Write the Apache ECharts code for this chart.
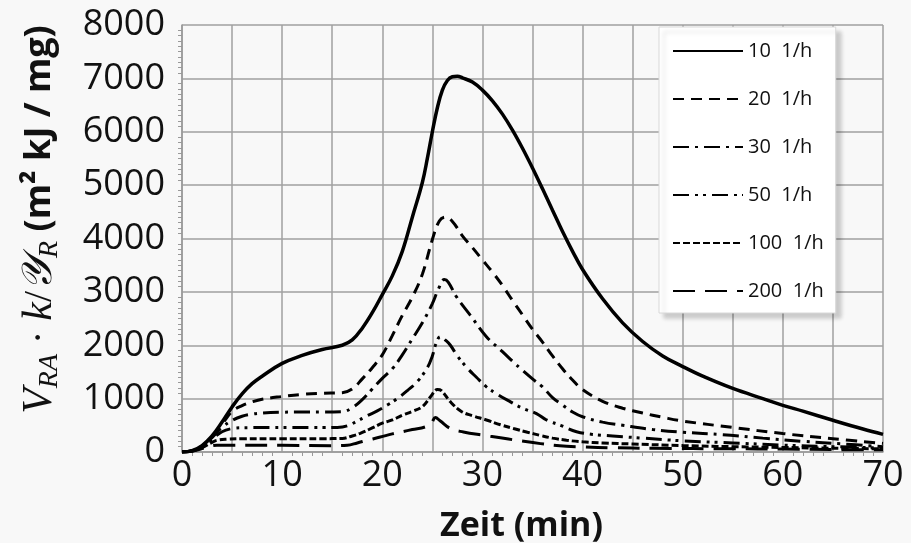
<!DOCTYPE html>
<html>
<head>
<meta charset="utf-8">
<script src="https://cdn.jsdelivr.net/npm/echarts@6.0.0/dist/echarts.min.js"></script>
<style>
  html, body { margin: 0; padding: 0; background: #f8f8f8; }
  #chart { width: 911px; height: 543px; }
</style>
</head>
<body>
<div id="chart"></div>
<script>
// Zeit (min) / Wert je Luftwechselrate
const t10 = [0, 1, 2, 3, 4, 5, 6, 7, 8, 10, 12, 14, 16, 17, 18, 19, 20, 21, 22, 23, 24, 24.5, 25, 25.5, 26, 26.5, 27, 27.5, 28, 29, 30, 31, 32, 33, 34, 35, 36, 37, 38, 39, 40, 42, 44, 46, 48, 50, 52, 55, 58, 60, 62, 65, 68, 70];
const v10 = [0, 25, 120, 300, 560, 845, 1090, 1280, 1420, 1660, 1810, 1920, 2000, 2100, 2320, 2610, 2950, 3300, 3760, 4400, 5050, 5500, 6000, 6450, 6780, 6960, 7030, 7040, 7010, 6930, 6780, 6580, 6330, 6030, 5690, 5320, 4930, 4530, 4130, 3760, 3420, 2870, 2420, 2070, 1800, 1600, 1420, 1190, 1000, 875, 765, 594, 430, 330];

const t20 = [0, 1, 2, 3, 4, 5, 6, 7, 8, 10, 12, 14, 16, 17, 18, 19, 20, 21, 22, 23, 24, 25, 25.7, 26.3, 27, 28, 29, 30, 31, 32, 33, 34, 35, 36, 37, 38, 39, 40, 42, 44, 46, 48, 50, 55, 60, 65, 70];
const v20 = [0, 25, 115, 290, 520, 760, 870, 940, 990, 1040, 1080, 1100, 1110, 1180, 1370, 1580, 1820, 2180, 2560, 2900, 3330, 3980, 4330, 4400, 4320, 4050, 3830, 3600, 3370, 3120, 2840, 2570, 2300, 2060, 1800, 1560, 1350, 1170, 950, 820, 730, 650, 580, 460, 345, 250, 160];

const t30 = [0, 1, 2, 3, 4, 5, 6, 7, 8, 10, 12, 14, 16, 17, 18, 19, 20, 21, 22, 23, 24, 25, 25.6, 26.2, 26.6, 27.4, 28.8, 30.4, 32, 33, 34, 35, 36, 37, 38, 39, 40, 42, 44, 47, 50, 54, 58, 62, 66, 70];
const v30 = [0, 22, 105, 270, 460, 590, 670, 710, 730, 745, 750, 750, 755, 830, 980, 1180, 1380, 1560, 1820, 2120, 2420, 2780, 3050, 3230, 3180, 2910, 2560, 2160, 1880, 1700, 1530, 1370, 1220, 1020, 880, 750, 660, 560, 500, 420, 370, 325, 260, 200, 150, 100];

const t50 = [0, 1, 2, 3, 4, 5, 6, 8, 10, 12, 14, 15.5, 16.5, 17.5, 18.5, 19.5, 20.5, 21.5, 22.5, 23.5, 24.5, 25, 25.4, 25.8, 26.4, 26.8, 27.5, 28.4, 29.4, 30.4, 31.5, 32.8, 34, 35.4, 36.4, 37.8, 39.4, 41, 43, 46, 50, 55, 60, 65, 70];
const v50 = [0, 20, 95, 240, 380, 440, 455, 457, 457, 457, 457, 460, 490, 580, 680, 770, 880, 1000, 1150, 1320, 1580, 1800, 2050, 2160, 2080, 2000, 1800, 1590, 1400, 1220, 1080, 940, 820, 720, 600, 500, 380, 330, 300, 260, 210, 170, 130, 100, 75];

const t100 = [0, 1, 2, 3, 3.5, 4.5, 6, 10, 14, 16, 17, 17.8, 19, 20, 21, 22, 23, 24, 24.8, 25.5, 25.9, 26.8, 27.9, 29, 30.4, 31.8, 33.1, 34.5, 35.8, 37, 38.4, 40, 42, 45, 50, 55, 60, 65, 70];
const v100 = [0, 18, 80, 180, 220, 240, 248, 250, 250, 255, 300, 350, 450, 540, 600, 690, 760, 850, 1030, 1170, 1150, 940, 760, 680, 600, 510, 440, 370, 310, 260, 220, 190, 170, 150, 120, 100, 85, 70, 60];

const t200 = [0, 1, 2, 2.8, 3.5, 5, 10, 15, 16.5, 17.5, 18.5, 19.8, 21, 22, 23, 24.3, 24.9, 25.3, 25.8, 26.8, 28.1, 30.1, 31.8, 33.4, 35.8, 38.4, 40, 43, 47, 55, 60, 65, 70];
const v200 = [0, 15, 65, 110, 125, 125, 125, 118, 125, 170, 220, 280, 340, 380, 420, 470, 540, 645, 580, 440, 375, 313, 265, 220, 157, 107, 95, 80, 70, 60, 55, 45, 40];

const seriesNames = ['10  1/h', '20  1/h', '30  1/h', '50  1/h', '100  1/h', '200  1/h'];
const xTicks = [0, 10, 20, 30, 40, 50, 60, 70];

const zip = (t, v) => t.map((x, i) => [x, v[i]]);
const allData = [zip(t10, v10), zip(t20, v20), zip(t30, v30), zip(t50, v50), zip(t100, v100), zip(t200, v200)];
const dashes = ['solid', [11, 7], [16, 6, 3, 6], [16, 6, 3, 5, 3, 6], [7, 3], [22, 10]];
const widths = [3.5, 3, 3, 3, 3, 3];

let chart = echarts.init(document.getElementById('chart'));

const option = {
  backgroundColor: '#f8f8f8',
  animation: false,
  grid: { left: 182, right: 28, top: 25, bottom: 91, outerBoundsMode: 'none' },
  legend: {
    orient: 'vertical',
    left: 659,
    top: 27,
    itemWidth: 70,
    itemHeight: 20,
    itemGap: 28,
    padding: [14, 12, 12, 13],
    backgroundColor: '#ffffff',
    borderColor: '#d8d8d8',
    borderWidth: 1,
    shadowColor: 'rgba(0,0,0,0.18)',
    shadowBlur: 4,
    shadowOffsetX: 5,
    shadowOffsetY: 5,
    itemStyle: { opacity: 0 },
    textStyle: { fontFamily: 'Open Sans', fontSize: 20, color: '#111' },
    data: seriesNames
  },
  xAxis: {
    type: 'value',
    min: 0,
    max: 70,
    interval: 5,
    name: 'Zeit (min)',
    nameLocation: 'middle',
    nameGap: 57,
    nameTextStyle: { fontFamily: 'Open Sans', fontWeight: 'bold', fontSize: 34, color: '#111', padding: [0, 22, 0, 0] },
    axisLine: { show: true, lineStyle: { color: '#999', width: 1.5 } },
    axisTick: { show: false },
    minorTick: { show: true, splitNumber: 5, length: 4, lineStyle: { color: '#999' } },
    splitLine: { show: true, lineStyle: { color: '#a0a0a0', width: 1.5 } },
    axisLabel: {
      fontFamily: 'Open Sans', fontSize: 36, color: '#111', margin: 6,
      formatter: v => xTicks.includes(v) ? String(v) : ''
    }
  },
  yAxis: {
    type: 'value',
    min: 0,
    max: 8000,
    interval: 1000,
    name: '{i|V}{sub|RA}{m| · }{i|k}{m|/}{i|𝒴}{sub|R}{b| (m² kJ / mg)}',
    nameLocation: 'middle',
    nameRotate: 90,
    nameGap: 118,
    nameTextStyle: {
      padding: [0, 0, 0, 38],
      rich: {
        i: { fontFamily: 'Liberation Serif', fontStyle: 'italic', fontSize: 42, color: '#111', lineHeight: 48 },
        sub: { fontFamily: 'Liberation Serif', fontStyle: 'italic', fontSize: 28, color: '#111', lineHeight: 48, verticalAlign: 'bottom', padding: [14, 0, 0, 0] },
        m: { fontFamily: 'Liberation Serif', fontSize: 40, color: '#111', lineHeight: 48 },
        b: { fontFamily: 'Open Sans', fontWeight: 'bold', fontSize: 36, color: '#111', lineHeight: 48 }
      }
    },
    axisLine: { show: true, lineStyle: { color: '#999', width: 1.5 } },
    axisTick: { show: false },
    minorTick: { show: true, splitNumber: 10, length: 4, lineStyle: { color: '#999' } },
    splitLine: { show: true, lineStyle: { color: '#a0a0a0', width: 1.5 } },
    axisLabel: { fontFamily: 'Open Sans', fontSize: 36, color: '#111', margin: 17, formatter: v => String(v) }
  },
  series: allData.map((d, i) => ({
    name: seriesNames[i],
    type: 'line',
    data: d,
    showSymbol: false,
    symbol: 'none',
    smooth: 0.4,
    lineStyle: { color: '#000', width: widths[i], type: dashes[i] },
    itemStyle: { color: '#000' }
  }))
};

chart.setOption(option);
</script>
</body>
</html>
